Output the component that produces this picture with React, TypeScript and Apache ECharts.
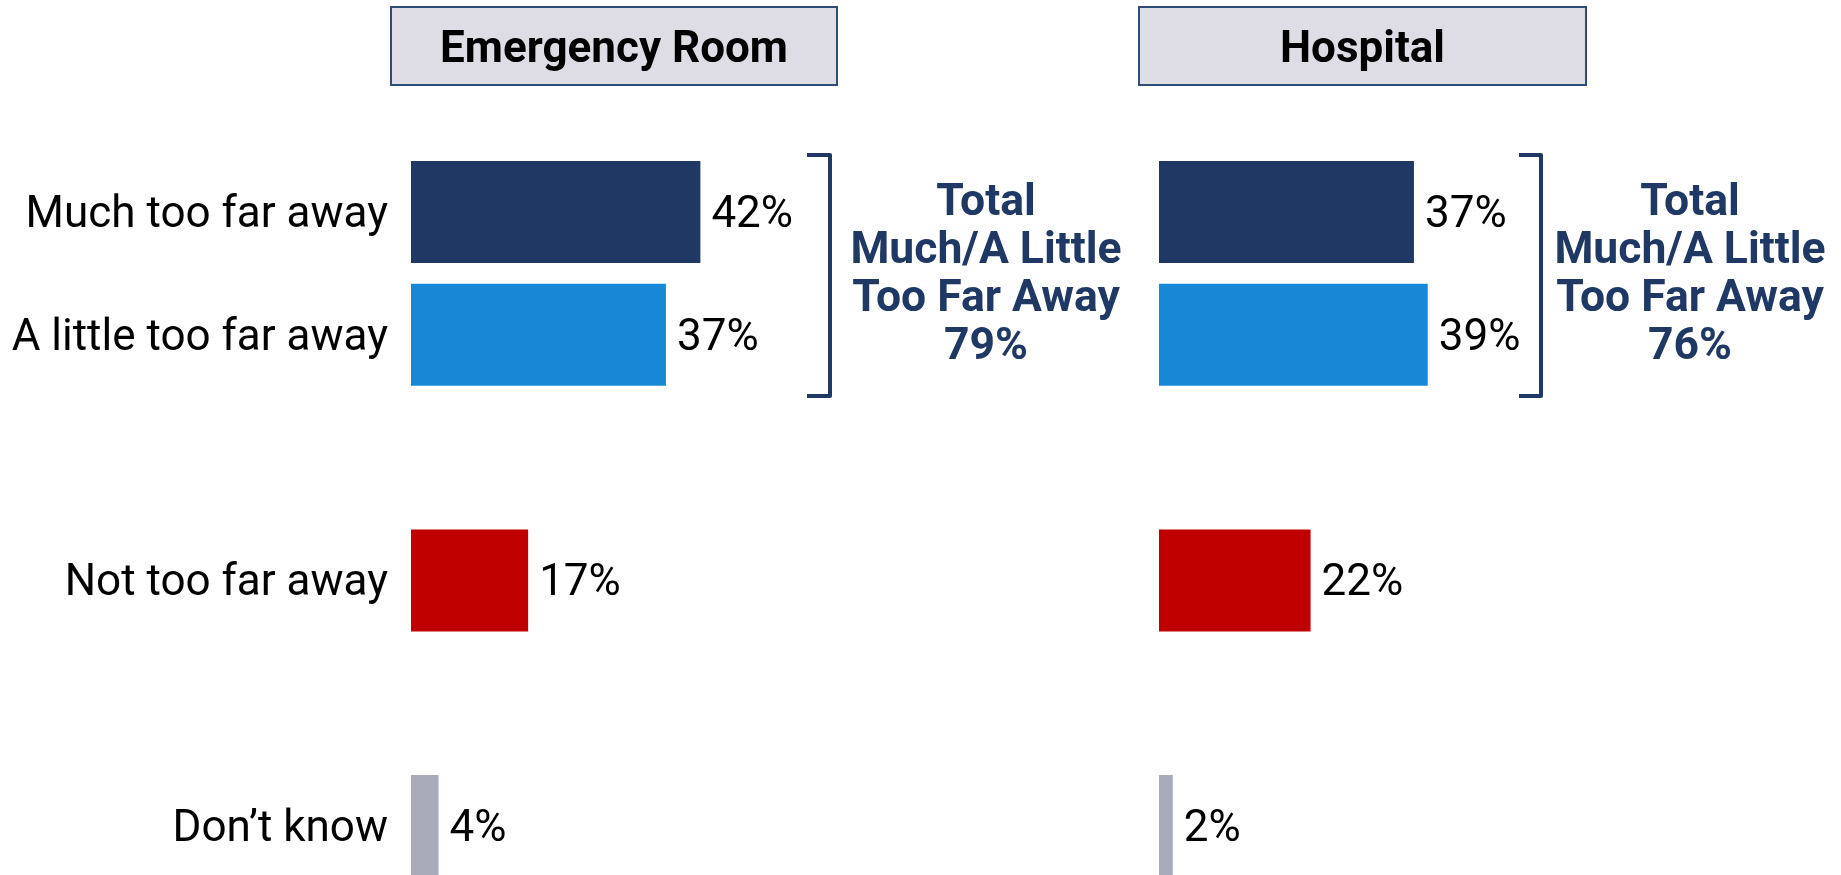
import React, { useEffect, useRef } from "react";
import * as echarts from "echarts";

const categories = ["Much too far away", "A little too far away", "Not too far away", "Don’t know"];
const erValues = [42, 37, 17, 4];
const hospitalValues = [37, 39, 22, 2];
const panelTitles = ["Emergency Room", "Hospital"];
const barColors = ["#1f3864", "#1788d6", "#c00000", "#a9abbb"];
const totalLabel = ["Total", "Much/A Little", "Too Far Away"];

const FONT = "Roboto";
const NAVY = "#1f3864";

// slots: two top rows, spacer, row, spacer, row
const slotMap = [0, 1, -1, 2, -2, 3];

function axisData() {
  return slotMap.map((i) => (i >= 0 ? categories[i] : i === -1 ? " " : "  "));
}

function seriesData(values: number[]) {
  return slotMap.map((i) =>
    i >= 0 ? { value: values[i], itemStyle: { color: barColors[i] } } : { value: null }
  );
}

export default function App() {
  const ref = useRef<HTMLDivElement>(null);

  useEffect(() => {
    if (!ref.current) return;
    const chart = echarts.init(ref.current, undefined, { renderer: "svg" });

    const erTotal = erValues[0] + erValues[1];
    const hoTotal = hospitalValues[0] + hospitalValues[1];

    const gridTop = 150.5;
    const gridHeight = 737;
    const gridWidth = 344.5;

    const labelStyle = {
      show: true,
      position: "right" as const,
      distance: 11,
      formatter: "{c}%",
      color: "#000",
      fontFamily: FONT,
      fontSize: 44,
    };

    const header = (x: number, w: number, text: string) => [
      {
        type: "rect",
        shape: { x, y: 7, width: w, height: 78 },
        style: { fill: "#dedde6", stroke: "#2f4b7c", lineWidth: 2 },
        z: 10,
      },
      {
        type: "text",
        x: x + w / 2,
        y: 47,
        style: {
          text,
          align: "center",
          verticalAlign: "middle",
          fontFamily: FONT,
          fontWeight: "bold",
          fontSize: 44,
          fill: "#000",
        },
        z: 11,
      },
    ];

    const bracket = (x1: number, x2: number) => ({
      type: "polyline",
      shape: { points: [[x1, 155], [x2, 155], [x2, 396], [x1, 396]] },
      style: { stroke: NAVY, lineWidth: 4, fill: "none", lineJoin: "round" },
      z: 10,
    });

    const total = (cx: number, value: number) => ({
      type: "text",
      x: cx,
      y: 272,
      style: {
        text: [...totalLabel, value + "%"].join("\n"),
        align: "center",
        verticalAlign: "middle",
        fontFamily: FONT,
        fontWeight: "bold",
        fontSize: 44.5,
        lineHeight: 48,
        fill: NAVY,
      },
      z: 10,
    });

    chart.setOption({
      animation: false,
      grid: [
        {
          left: 411,
          top: gridTop,
          width: gridWidth,
          height: gridHeight,
          outerBoundsMode: "none",
          containLabel: false,
        },
        {
          left: 1159,
          top: gridTop,
          width: gridWidth,
          height: gridHeight,
          outerBoundsMode: "none",
          containLabel: false,
        },
      ],
      xAxis: [
        { type: "value", gridIndex: 0, min: 0, max: 50, show: false },
        { type: "value", gridIndex: 1, min: 0, max: 50, show: false },
      ],
      yAxis: [
        {
          type: "category",
          gridIndex: 0,
          inverse: true,
          data: axisData(),
          axisLine: { show: false },
          axisTick: { show: false },
          axisLabel: {
            margin: 23,
            color: "#000",
            fontFamily: FONT,
            fontSize: 44,
          },
        },
        {
          type: "category",
          gridIndex: 1,
          inverse: true,
          data: axisData(),
          axisLine: { show: false },
          axisTick: { show: false },
          axisLabel: { show: false },
        },
      ],
      series: [
        {
          type: "bar",
          xAxisIndex: 0,
          yAxisIndex: 0,
          barWidth: 102,
          data: seriesData(erValues),
          label: labelStyle,
        },
        {
          type: "bar",
          xAxisIndex: 1,
          yAxisIndex: 1,
          barWidth: 102,
          data: seriesData(hospitalValues),
          label: labelStyle,
        },
      ],
      graphic: [
        ...header(391, 446, panelTitles[0]),
        ...header(1139, 447, panelTitles[1]),
        bracket(807, 830),
        bracket(1519, 1541),
        total(986, erTotal),
        total(1690, hoTotal),
      ],
    });

    return () => chart.dispose();
  }, []);

  return (
    <div
      ref={ref}
      style={{ position: "fixed", left: 0, top: 0, width: 1841, height: 875 }}
    />
  );
}
